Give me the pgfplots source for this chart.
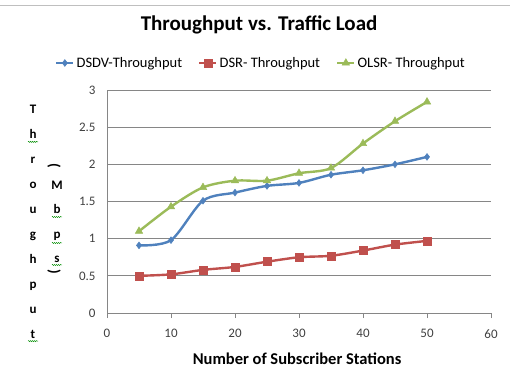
\documentclass[border=0pt]{standalone}
\usepackage{pgfplots}
\pgfplotsset{compat=1.18}
\usepackage{fontspec}
\setmainfont{Carlito}
\usetikzlibrary{decorations.pathmorphing}

\definecolor{dsdv}{HTML}{4F81BD}
\definecolor{dsr}{HTML}{C0504D}
\definecolor{olsr}{HTML}{9BBB59}
\definecolor{gridgray}{HTML}{868686}

\begin{document}
\begin{tikzpicture}[x=1pt,y=1pt]
\useasboundingbox (0,0) rectangle (510,380);
\draw[gray!50, line width=0.8pt] (0,375) -- (510,375);

\begin{axis}[
  at={(107pt,67pt)}, anchor=south west,
  scale only axis, width=384pt, height=223pt,
  xmin=0, xmax=60, ymin=0, ymax=3,
  xtick={0,10,...,60}, ytick={0,0.5,...,3},
  axis x line*=bottom, axis y line*=left,
  x axis line style={draw=none},
  y axis line style={draw=gridgray, line width=0.8pt},
  ymajorgrids, grid style={gridgray, line width=0.8pt},
  tick style={gridgray, line width=0.8pt},
  major tick length=5pt, tick align=outside,
  ytick style={draw=none},
  /pgf/number format/assume math mode=true,
  ticklabel style={font=\fontsize{13}{15}\selectfont, text=black!75},
  yticklabel style={/pgf/number format/fixed, /pgf/number format/precision=1, xshift=-3pt},
  xticklabel style={yshift=-8pt},
  title={\textbf{Throughput vs. Traffic Load}},
  title style={at={(0.396,1.269)}, anchor=center, yshift=-1pt, font=\fontsize{21}{24}\selectfont},
  xlabel={\textbf{Number of Subscriber Stations}},
  xlabel style={at={(0.495,-0.202)}, anchor=center, yshift=-1pt, font=\fontsize{16.5}{19}\selectfont},
  legend columns=3,
  legend style={at={(0.401,1.121)}, anchor=center, draw=none, fill=none,
    font=\fontsize{14.5}{17}\selectfont,
    /tikz/every even column/.append style={column sep=14pt}},
  legend cell align=left,
  every axis plot/.append style={line width=2.4pt, smooth, tension=0.5},
]
% short stubs of the grid lines to the left of the y axis
\pgfplotsextra{
  \foreach \v in {0,0.5,1,...,3} {\draw[gridgray, line width=0.8pt] (axis cs:0,\v) ++(-4pt,0) -- (axis cs:0,\v);}
}
\addplot[color=dsdv, mark=diamond*, mark size=3.4pt, mark options={line width=0.5pt}]
  coordinates {(5,0.91) (10,0.98) (15,1.51) (20,1.62) (25,1.71) (30,1.75) (35,1.86) (40,1.92) (45,2.00) (50,2.10)};
\addlegendentry{DSDV-Throughput}
\addplot[color=dsr, mark=square*, mark size=4pt, mark options={line width=0.5pt}]
  coordinates {(5,0.50) (10,0.52) (15,0.58) (20,0.62) (25,0.69) (30,0.75) (35,0.77) (40,0.84) (45,0.92) (50,0.97)};
\addlegendentry{DSR- Throughput}
\addplot[color=olsr, mark=triangle*, mark size=4.3pt, mark options={line width=0.5pt}]
  coordinates {(5,1.10) (10,1.43) (15,1.69) (20,1.78) (25,1.78) (30,1.88) (35,1.95) (40,2.28) (45,2.58) (50,2.84)};
\addlegendentry{OLSR- Throughput}
\end{axis}

% y axis title, one letter per line
\tikzset{ylet/.style={anchor=base, inner sep=0pt, font=\bfseries\fontsize{13}{15}\selectfont},
         squig/.style={green!55!black, line width=0.4pt, decorate,
           decoration={snake, amplitude=0.6pt, segment length=2pt}}}
\foreach \c [count=\i from 0] in {T,h,r,o,u,g,h,p,u,t}
  \node[ylet] at (33,{380-114-24.9*\i}) {\c};
\foreach \c [count=\i from 0] in {M,b,p,s}
  \node[ylet] at (57,{380-190-24*\i}) {\c};
\node[inner sep=0pt, rotate=-90, font=\bfseries\fontsize{15}{17}\selectfont] at (54,{380-166}) {(};
\node[inner sep=0pt, rotate=-90, font=\bfseries\fontsize{15}{17}\selectfont] at (54,{380-272}) {)};
% proofing underlines
\draw[squig] (28,{380-114-24.9-3}) -- (38,{380-114-24.9-3});
\draw[squig] (28,{380-114-24.9*9-3}) -- (38,{380-114-24.9*9-3});
\draw[squig] (52,{380-190-24-3}) -- (62,{380-190-24-3});
\draw[squig] (52,{380-190-48-5}) -- (62,{380-190-48-5});
\draw[squig] (52,{380-190-72-3}) -- (62,{380-190-72-3});
\end{tikzpicture}
\end{document}
